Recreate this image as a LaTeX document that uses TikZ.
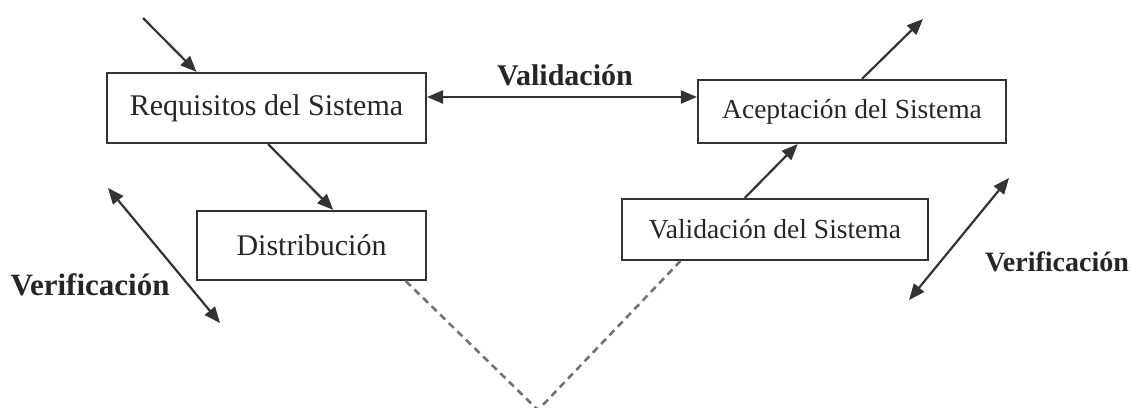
\documentclass[tikz,border=0pt]{standalone}
\usepackage{fontspec}
\setmainfont{Liberation Serif}
\usetikzlibrary{arrows.meta,calc}
\begin{document}
\begin{tikzpicture}[x=1pt,y=-1pt,
  stage/.style={draw=black!80,line width=2.2pt,fill=white,inner sep=0pt,
    font=\fontsize{27.5}{32}\selectfont,text=black!85},
  bigtext/.style={font=\fontsize{30}{34}\selectfont},
  lbl/.style={font=\fontsize{30}{34}\selectfont\bfseries,text=black!85,inner sep=0pt},
  tip/.tip={Triangle[length=16pt,width=13pt]},
  arr/.style={draw=black!80,line width=2.2pt,-tip},
  dblarr/.style={draw=black!80,line width=2.2pt,tip-tip},
  dashline/.style={draw=black!55,line width=2.6pt,dash pattern=on 7pt off 5pt}]
\useasboundingbox[fill=white] (0,0) rectangle (1131,407);

% stages of the V
\node[stage,bigtext,minimum width=319pt,minimum height=70pt] (req) at (266.5,108) {Requisitos del Sistema};
\node[stage,minimum width=308pt,minimum height=63pt] (acc) at (852,111.5) {Aceptación del Sistema};
\node[stage,bigtext,minimum width=229pt,minimum height=69pt] (dist) at (311.5,245.5) {Distribución};
\node[stage,minimum width=306pt,minimum height=61pt] (vsis) at (775,229.5) {Validación del Sistema};

% labels
\node[lbl] (lval) at (565,75) {Validación};
\node[lbl,font=\fontsize{31}{34}\selectfont\bfseries] (lverL) at (90,285) {Verificación};
\node[lbl,font=\fontsize{28}{32}\selectfont\bfseries] (lverR) at (1057,262) {Verificación};

% free ends of the connectors
\coordinate (inTop) at (143,18);
\coordinate (outTop) at (923,19);
\coordinate (verLa) at (108,188);
\coordinate (verLb) at (220,323);
\coordinate (verRa) at (1009,178);
\coordinate (verRb) at (909,300);
\coordinate (apex) at (538,410);

% connectors
\draw[arr] (inTop) -- ($(req.north west)!0.282!(req.north east)$);
\draw[arr] ($(req.south west)!0.505!(req.south east)$) -- ($(dist.north west)!0.594!(dist.north east)$);
\draw[dblarr] ($(req.east)+(0,-11)$) -- ($(acc.west)+(0,-14.5)$);
\draw[arr] ($(acc.north west)!0.532!(acc.north east)$) -- (outTop);
\draw[arr] ($(vsis.north west)!0.402!(vsis.north east)$) -- ($(acc.south west)!0.325!(acc.south east)$);
\draw[dblarr] (verLa) -- (verLb);
\draw[dblarr] (verRa) -- (verRb);
\draw[dashline] ($(dist.south west)!0.908!(dist.south east)$) -- (apex) -- ($(vsis.south west)!0.193!(vsis.south east)$);
\end{tikzpicture}
\end{document}
